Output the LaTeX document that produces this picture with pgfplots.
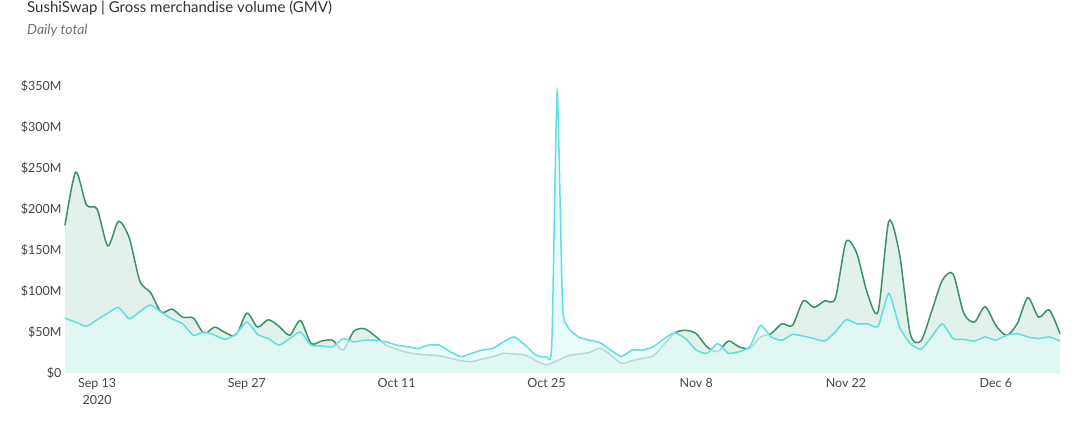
\documentclass[border=0pt]{standalone}
\usepackage{pgfplots}
\pgfplotsset{compat=1.18}
\usepackage{pgfplotstable}
\usepackage{fontspec}
\setmainfont{Lato}

\definecolor{sushiline}{HTML}{3B8F6B}
\definecolor{sushifill}{HTML}{E2F2EA}
\definecolor{uniline}{HTML}{5FE0DF}
\definecolor{unifill}{HTML}{E0FAF9}
\definecolor{labelgray}{HTML}{444444}

% day 0 = Sep 10 2020; values in $M
\pgfplotstableread{
day sushi
0 180
1 245
2 205
3 200
4 155
5 185
6 165
7 112
8 98
9 74
10 78
11 68
12 67
13 48
14 56
15 49
16 46
17 73
18 56
19 65
20 57
21 46
22 64
23 36
24 39
25 40
26 28
27 51
28 54
29 45
30 34
31 29
32 25
33 23
34 22
35 21
36 18
37 15
38 14
39 17
40 20
41 24
42 23
43 22
44 15
45 10
46 15
47 21
48 23
49 25
50 30
51 22
52 12
53 15
54 18
55 21
56 35
57 49
58 52
59 48
60 32
61 26
62 39
63 32
64 30
65 44
66 48
67 60
68 58
69 88
70 80
71 88
72 91
73 160
74 146
75 97
76 75
77 185
78 145
79 48
80 39
81 75
82 113
83 121
84 73
85 62
86 81
87 58
88 46
89 60
90 92
91 68
92 77
93 48
}\sushidata

\pgfplotstableread{
day other
0 67
1 62
2 57
3 65
4 73
5 80
6 66
7 75
8 83
9 74
10 66
11 60
12 46
13 50
14 46
15 41
16 48
17 62
18 47
19 42
20 34
21 42
22 50
23 34
24 33
25 32
26 42
27 38
28 40
29 40
30 38
31 34
32 32
33 30
34 34
35 34
36 26
37 20
38 24
39 28
40 30
41 38
42 44
43 34
44 22
45 20
45.5 35
46 343
46.5 85
47 56
48 44
49 40
50 37
51 28
52 20
53 28
54 28
55 32
56 42
57 49
58 42
59 28
60 24
61 36
62 24
63 26
64 32
65 58
66 44
67 40
68 47
69 45
70 42
71 39
72 50
73 65
74 60
75 60
76 57
77 97
78 56
79 36
80 29
81 44
82 60
83 42
84 41
85 39
86 44
87 40
88 46
89 48
90 44
91 42
92 44
93 39
}\otherdata

\begin{document}
\begin{tikzpicture}[x=1pt,y=1pt]
\useasboundingbox (0,0) rectangle (1080,427);
\node[anchor=base west, inner sep=0, text=black!80, font=\fontsize{15}{18}\selectfont] at (27,414) {SushiSwap | Gross merchandise volume (GMV)};
\node[anchor=base west, inner sep=0, text=black!55, font=\fontsize{14}{17}\selectfont\itshape] at (27,392) {Daily total};
\begin{axis}[
    at={(65pt,54pt)}, anchor=south west,
    scale only axis, width=995pt, height=287pt,
    xmin=0, xmax=93, ymin=0, ymax=350,
    clip=false,
    axis x line*=bottom, axis y line*=left,
    x axis line style={draw=black!18, line width=1pt, -},
    y axis line style={draw=none},
    major tick length=0pt,
    xtick={3,17,31,45,59,73,87},
    xticklabels={{Sep 13\\2020},Sep 27,Oct 11,Oct 25,Nov 8,Nov 22,Dec 6},
    ytick={0,50,...,350},
    yticklabels={\$0,\$50M,\$100M,\$150M,\$200M,\$250M,\$300M,\$350M},
    x tick label style={align=center, text=labelgray, font=\fontsize{12.5}{16.5}\selectfont, yshift=-2pt},
    y tick label style={text=labelgray, font=\fontsize{12.5}{15}\selectfont},
]
\addplot[draw=none, fill=sushifill, smooth, tension=0.45] table[x=day, y=sushi] {\sushidata} \closedcycle;
\addplot[sushiline, line width=1.5pt, smooth, tension=0.45] table[x=day, y=sushi] {\sushidata};
\addplot[draw=none, fill=unifill, fill opacity=0.72, smooth, tension=0.35] table[x=day, y=other] {\otherdata} \closedcycle;
\addplot[uniline, line width=1.5pt, smooth, tension=0.35] table[x=day, y=other] {\otherdata};
\end{axis}
\end{tikzpicture}
\end{document}
